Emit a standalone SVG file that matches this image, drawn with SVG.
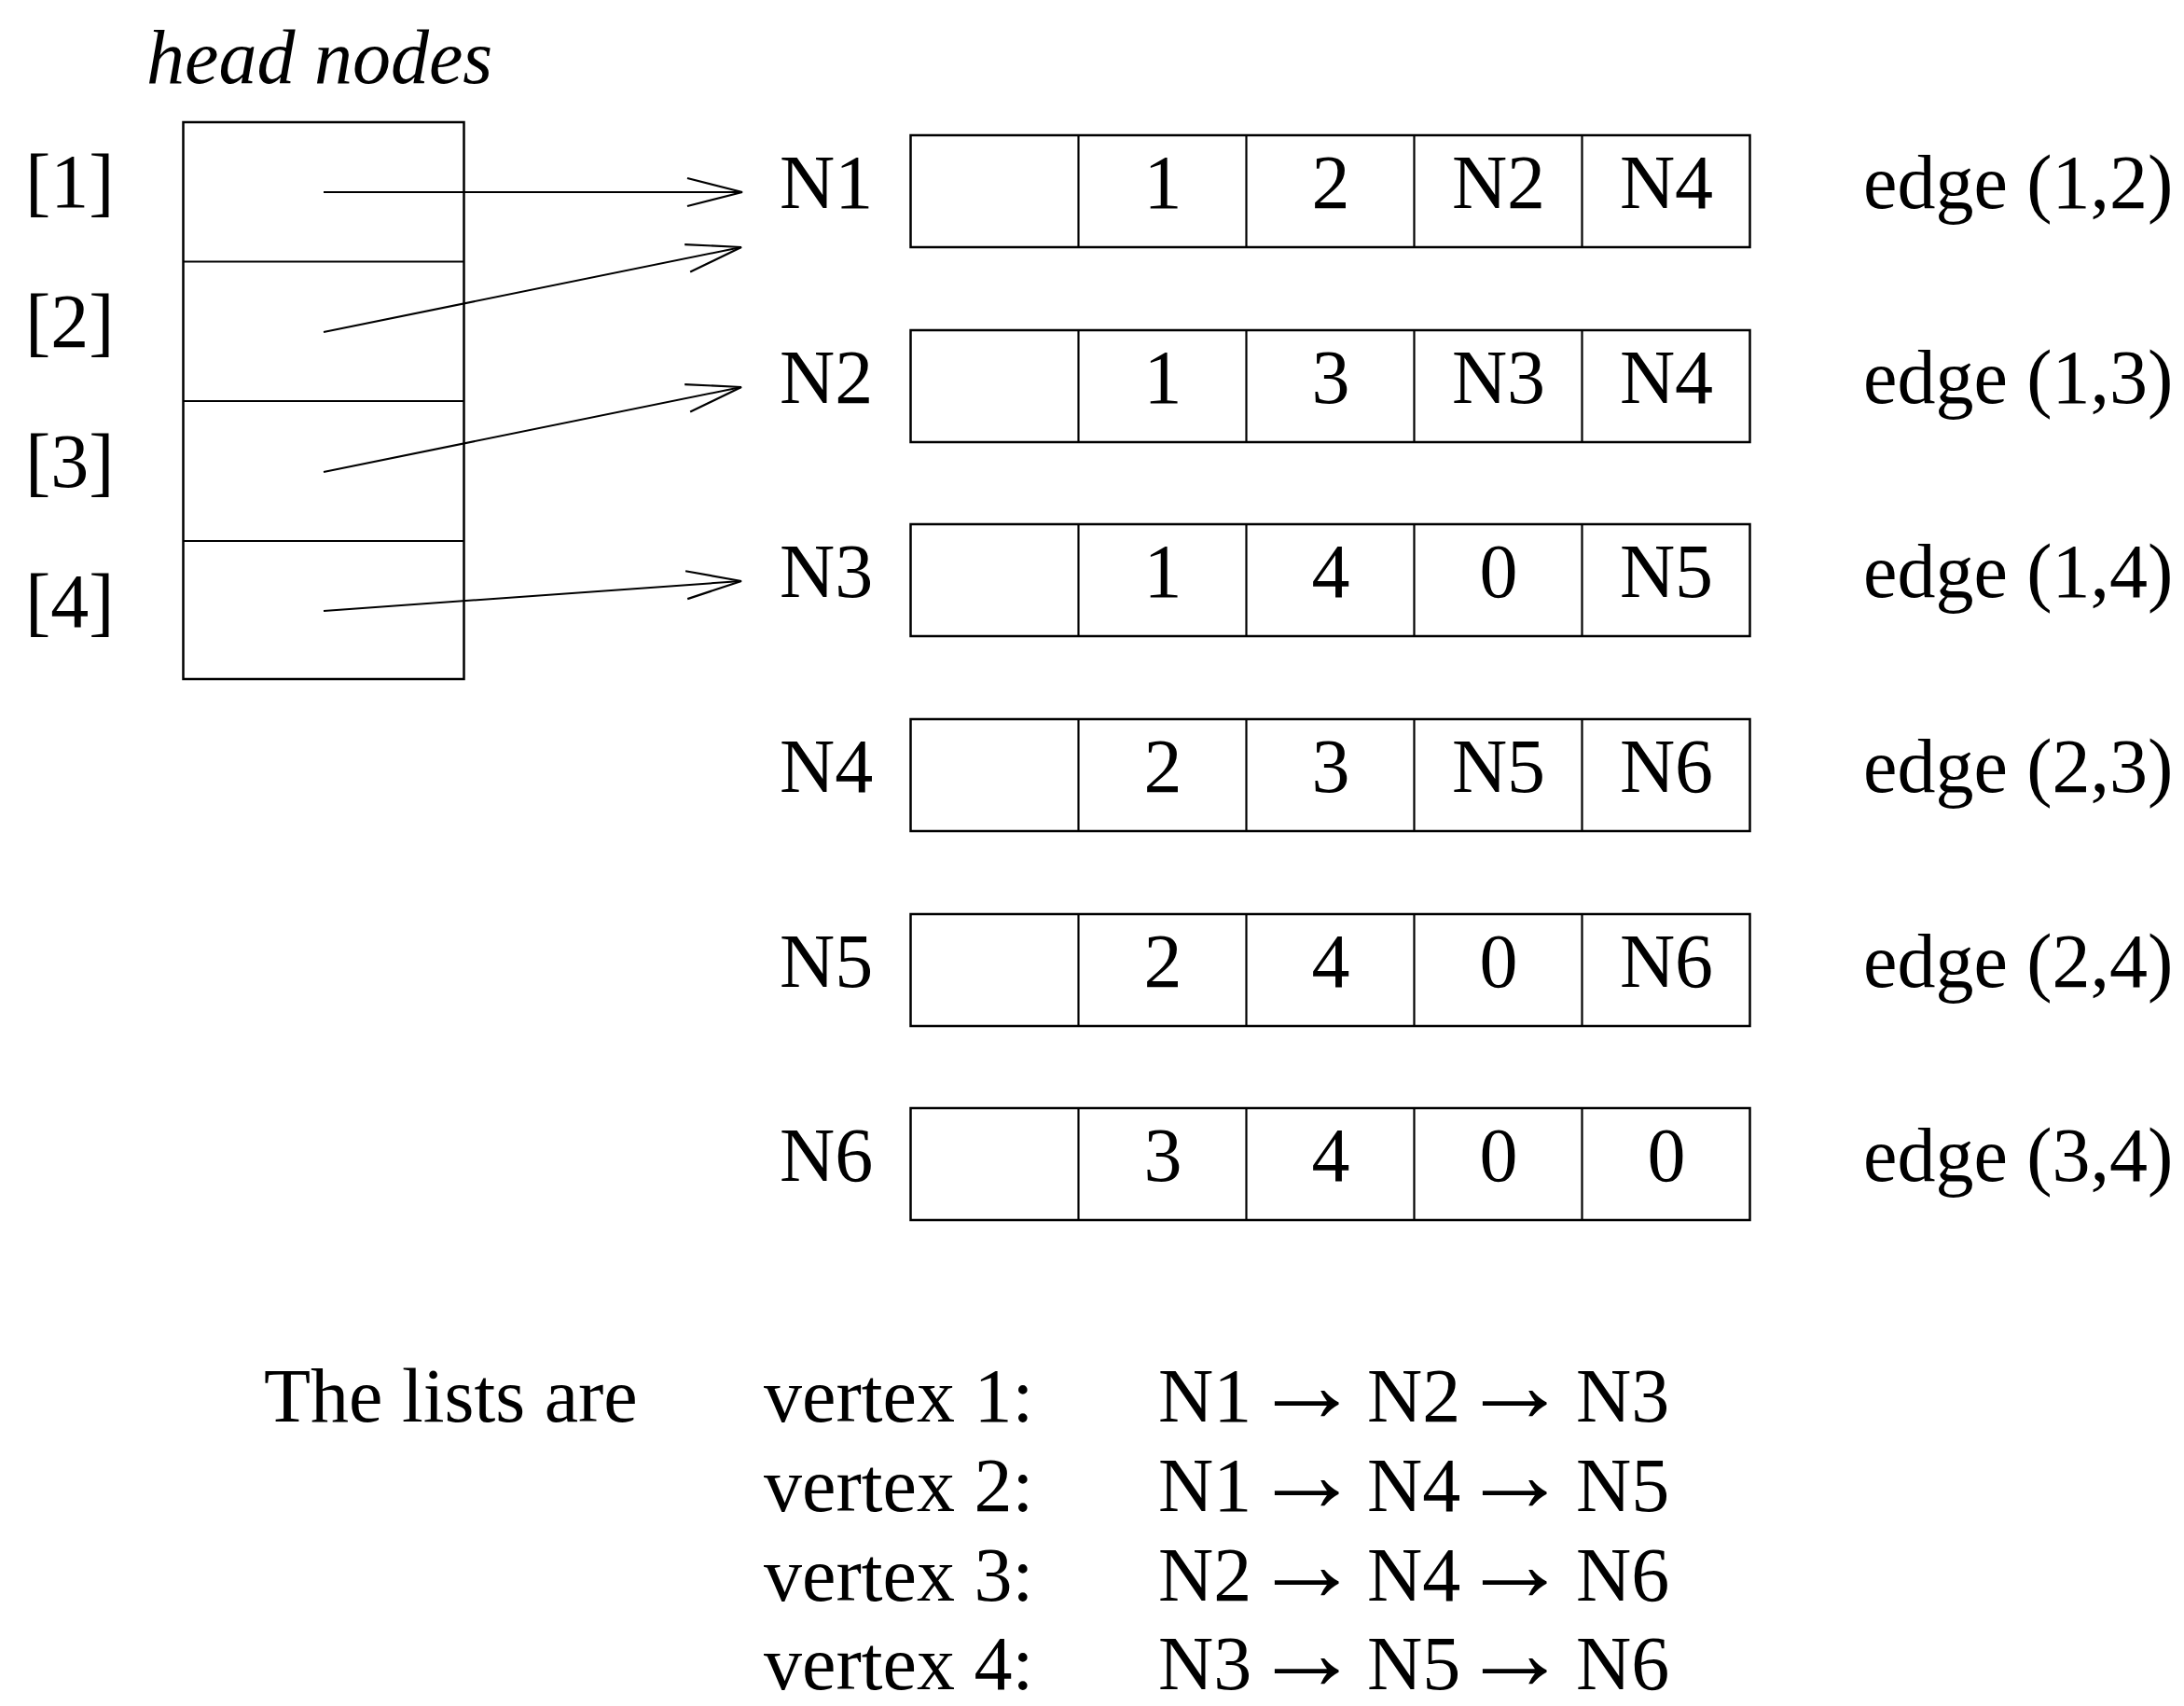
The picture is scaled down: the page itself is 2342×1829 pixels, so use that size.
<svg xmlns="http://www.w3.org/2000/svg" width="2342" height="1829" viewBox="0 0 2342 1829">
<style>
text{font-family:"Liberation Serif","Times New Roman",serif;font-size:82px;fill:#000}
.it{font-style:italic}
.c{text-anchor:middle}
.ar{font-size:116px}
.box{fill:none;stroke:#000;stroke-width:2.5}
.div{stroke:#000;stroke-width:2.2}
.conn{fill:none;stroke:#000;stroke-width:2}
</style>
<defs>
<marker id="ah" markerUnits="userSpaceOnUse" viewBox="-70 -20 80 40" markerWidth="80" markerHeight="40" refX="0" refY="0" orient="auto" overflow="visible">
<path d="M-59,-15 L0,0 L-59,15" fill="none" stroke="#000" stroke-width="2.2"/>
</marker>
</defs>
<rect width="2342" height="1829" fill="#fff"/>

<g id="head-nodes">
<text class="it" x="157" y="89">head nodes</text>
<rect class="box" x="196.5" y="131" width="301" height="597"/>
<line class="div" x1="196.5" y1="280.5" x2="497.5" y2="280.5"/>
<line class="div" x1="196.5" y1="430" x2="497.5" y2="430"/>
<line class="div" x1="196.5" y1="580" x2="497.5" y2="580"/>
<text x="27" y="222">[1]</text>
<text x="27" y="372">[2]</text>
<text x="27" y="522">[3]</text>
<text x="27" y="672">[4]</text>
</g>

<g id="N1" transform="translate(0,145)">
<text x="836" y="78">N1</text>
<rect class="box" x="976.5" y="0" width="900" height="120"/>
<line class="div" x1="1156.5" y1="0" x2="1156.5" y2="120"/><line class="div" x1="1336.5" y1="0" x2="1336.5" y2="120"/><line class="div" x1="1516.5" y1="0" x2="1516.5" y2="120"/><line class="div" x1="1696.5" y1="0" x2="1696.5" y2="120"/>
<text class="c" x="1247" y="78">1</text><text class="c" x="1427" y="78">2</text><text class="c" x="1607" y="78">N2</text><text class="c" x="1787" y="78">N4</text>
<text x="1998" y="78">edge (1,2)</text>
</g>

<g id="N2" transform="translate(0,354)">
<text x="836" y="78">N2</text>
<rect class="box" x="976.5" y="0" width="900" height="120"/>
<line class="div" x1="1156.5" y1="0" x2="1156.5" y2="120"/><line class="div" x1="1336.5" y1="0" x2="1336.5" y2="120"/><line class="div" x1="1516.5" y1="0" x2="1516.5" y2="120"/><line class="div" x1="1696.5" y1="0" x2="1696.5" y2="120"/>
<text class="c" x="1247" y="78">1</text><text class="c" x="1427" y="78">3</text><text class="c" x="1607" y="78">N3</text><text class="c" x="1787" y="78">N4</text>
<text x="1998" y="78">edge (1,3)</text>
</g>

<g id="N3" transform="translate(0,562)">
<text x="836" y="78">N3</text>
<rect class="box" x="976.5" y="0" width="900" height="120"/>
<line class="div" x1="1156.5" y1="0" x2="1156.5" y2="120"/><line class="div" x1="1336.5" y1="0" x2="1336.5" y2="120"/><line class="div" x1="1516.5" y1="0" x2="1516.5" y2="120"/><line class="div" x1="1696.5" y1="0" x2="1696.5" y2="120"/>
<text class="c" x="1247" y="78">1</text><text class="c" x="1427" y="78">4</text><text class="c" x="1607" y="78">0</text><text class="c" x="1787" y="78">N5</text>
<text x="1998" y="78">edge (1,4)</text>
</g>

<g id="N4" transform="translate(0,771)">
<text x="836" y="78">N4</text>
<rect class="box" x="976.5" y="0" width="900" height="120"/>
<line class="div" x1="1156.5" y1="0" x2="1156.5" y2="120"/><line class="div" x1="1336.5" y1="0" x2="1336.5" y2="120"/><line class="div" x1="1516.5" y1="0" x2="1516.5" y2="120"/><line class="div" x1="1696.5" y1="0" x2="1696.5" y2="120"/>
<text class="c" x="1247" y="78">2</text><text class="c" x="1427" y="78">3</text><text class="c" x="1607" y="78">N5</text><text class="c" x="1787" y="78">N6</text>
<text x="1998" y="78">edge (2,3)</text>
</g>

<g id="N5" transform="translate(0,980)">
<text x="836" y="78">N5</text>
<rect class="box" x="976.5" y="0" width="900" height="120"/>
<line class="div" x1="1156.5" y1="0" x2="1156.5" y2="120"/><line class="div" x1="1336.5" y1="0" x2="1336.5" y2="120"/><line class="div" x1="1516.5" y1="0" x2="1516.5" y2="120"/><line class="div" x1="1696.5" y1="0" x2="1696.5" y2="120"/>
<text class="c" x="1247" y="78">2</text><text class="c" x="1427" y="78">4</text><text class="c" x="1607" y="78">0</text><text class="c" x="1787" y="78">N6</text>
<text x="1998" y="78">edge (2,4)</text>
</g>

<g id="N6" transform="translate(0,1188)">
<text x="836" y="78">N6</text>
<rect class="box" x="976.5" y="0" width="900" height="120"/>
<line class="div" x1="1156.5" y1="0" x2="1156.5" y2="120"/><line class="div" x1="1336.5" y1="0" x2="1336.5" y2="120"/><line class="div" x1="1516.5" y1="0" x2="1516.5" y2="120"/><line class="div" x1="1696.5" y1="0" x2="1696.5" y2="120"/>
<text class="c" x="1247" y="78">3</text><text class="c" x="1427" y="78">4</text><text class="c" x="1607" y="78">0</text><text class="c" x="1787" y="78">0</text>
<text x="1998" y="78">edge (3,4)</text>
</g>

<g id="connectors">
<line class="conn" x1="347" y1="206" x2="796" y2="206" marker-end="url(#ah)"/>
<line class="conn" x1="347" y1="356" x2="795" y2="265" marker-end="url(#ah)"/>
<line class="conn" x1="347" y1="506" x2="795" y2="415" marker-end="url(#ah)"/>
<line class="conn" x1="347" y1="655" x2="795" y2="623" marker-end="url(#ah)"/>
</g>

<g id="lists">
<text x="283" y="1524">The lists are</text>
<text x="819" y="1524">vertex 1:</text>
<text x="819" y="1620">vertex 2:</text>
<text x="819" y="1716">vertex 3:</text>
<text x="819" y="1811">vertex 4:</text>
<text y="1524"><tspan x="1242">N1</tspan> <tspan class="ar" x="1343">→</tspan> <tspan x="1466">N2</tspan> <tspan class="ar" x="1566">→</tspan> <tspan x="1690">N3</tspan></text>
<text y="1620"><tspan x="1242">N1</tspan> <tspan class="ar" x="1343">→</tspan> <tspan x="1466">N4</tspan> <tspan class="ar" x="1566">→</tspan> <tspan x="1690">N5</tspan></text>
<text y="1716"><tspan x="1242">N2</tspan> <tspan class="ar" x="1343">→</tspan> <tspan x="1466">N4</tspan> <tspan class="ar" x="1566">→</tspan> <tspan x="1690">N6</tspan></text>
<text y="1811"><tspan x="1242">N3</tspan> <tspan class="ar" x="1343">→</tspan> <tspan x="1466">N5</tspan> <tspan class="ar" x="1566">→</tspan> <tspan x="1690">N6</tspan></text>
</g>
</svg>
